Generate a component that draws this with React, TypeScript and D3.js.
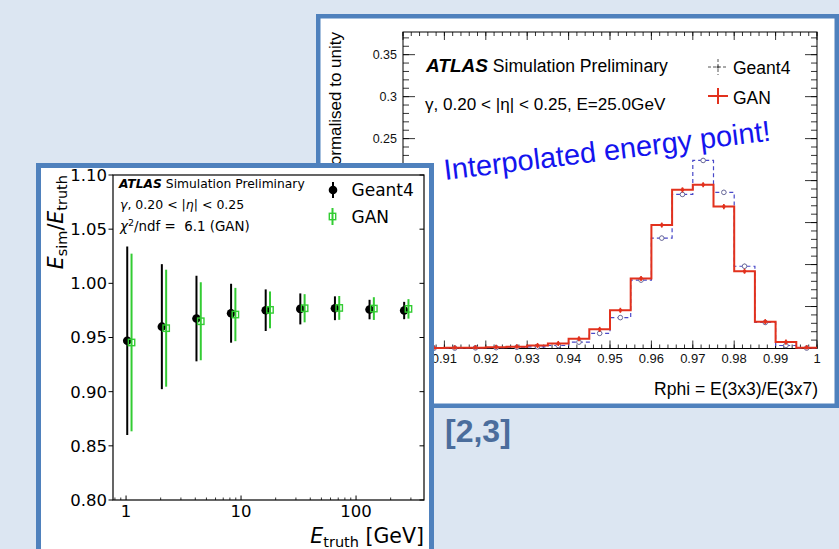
import React from 'react'
import * as d3 from 'd3'

// ---- left panel: energy response vs truth energy ----
const energies = [1.024, 2.048, 4.096, 8.192, 16.384, 32.768, 65.536, 131.072, 262.144]
const g4Ratio = [0.947, 0.960, 0.9675, 0.9724, 0.9752, 0.9764, 0.977, 0.9758, 0.9749]
const g4Err = [0.087, 0.0577, 0.0395, 0.0272, 0.0192, 0.0143, 0.011, 0.009, 0.008]
const ganRatio = [0.9454, 0.9586, 0.965, 0.9712, 0.9755, 0.977, 0.9773, 0.9767, 0.9764]
const ganErr = [0.082, 0.054, 0.036, 0.0246, 0.017, 0.013, 0.011, 0.0105, 0.009]
const ratioTicks = [0.8, 0.85, 0.9, 0.95, 1.0, 1.05, 1.1]
const ratioLabels = ['0.80', '0.85', '0.90', '0.95', '1.00', '1.05', '1.10']
const energyTicks = [1, 10, 100]
const energyLabels = ['1', '10', '100']

// ---- right panel: Rphi shower shape at 25 GeV ----
const rphiEdges = [0.900, 0.905, 0.910, 0.915, 0.920, 0.925, 0.930, 0.935, 0.940, 0.945, 0.950,
  0.955, 0.960, 0.965, 0.970, 0.975, 0.980, 0.985, 0.990, 0.995, 1.000]
const ganHist = [0.0005, 0.0006, 0.0008, 0.001, 0.0015, 0.002, 0.0036, 0.006, 0.0116, 0.0228,
  0.0455, 0.0835, 0.147, 0.189, 0.195, 0.169, 0.092, 0.032, 0.0076, 0.001]
const g4Hist = [0.0003, 0.0004, 0.0005, 0.0008, 0.001, 0.0015, 0.002, 0.0036, 0.0076, 0.018,
  0.0368, 0.0815, 0.1315, 0.1835, 0.224, 0.186, 0.098, 0.031, 0.0036, 0.0005]
const histErr = 0.003
const rphiTicks = [0.9, 0.91, 0.92, 0.93, 0.94, 0.95, 0.96, 0.97, 0.98, 0.99, 1.0]
const rphiLabels = ['0.9', '0.91', '0.92', '0.93', '0.94', '0.95', '0.96', '0.97', '0.98', '0.99', '1']
const normTicks = [0, 0.05, 0.1, 0.15, 0.2, 0.25, 0.3, 0.35]
const normLabels = ['0', '0.05', '0.1', '0.15', '0.2', '0.25', '0.3', '0.35']

const BG = '#dce6f2'
const FRAME = '#4f81bd'
const GREEN = '#33cc33'
const RED = '#e2311d'
const BLUE = '#4848c8'
const MPL = 'DejaVu Sans, sans-serif'
const ROOTF = 'Liberation Sans, Arial, sans-serif'

// the left panel sits over this part of the right one
const COVER = { x0: 36, x1: 434, y0: 163 }
const covered = (px: number, py: number) => px > COVER.x0 && px < COVER.x1 && py > COVER.y0

function RphiPanel() {
  const x = d3.scaleLinear().domain([0.9, 1.0]).range([403, 817])
  const y = d3.scaleLinear().domain([0, 0.377]).range([348.5, 32])
  const centers = rphiEdges.slice(0, -1).map((e, i) => (e + rphiEdges[i + 1]) / 2)

  const step = (vals: number[]) => {
    const pts: [number, number][] = vals.map((v, i) => [rphiEdges[i], v])
    pts.push([rphiEdges[rphiEdges.length - 1], vals[vals.length - 1]])
    return d3.line<[number, number]>().x(d => x(d[0])).y(d => y(d[1])).curve(d3.curveStepAfter)(pts) || ''
  }

  const [y0, y1] = y.range()
  const [x0, x1] = x.range()

  return (
    <g>
      <rect x={318.25} y={16.25} width={518.5} height={389.5} fill="#fff" stroke={FRAME} strokeWidth={4.5} />
      <rect x={x0} y={y1} width={x1 - x0} height={y0 - y1} fill="none" stroke="#000" strokeWidth={1} />

      {/* minor ticks */}
      {x.ticks(50).map((t, i) => (
        <g key={'xm' + i} stroke="#000" strokeWidth={0.8}>
          <line x1={x(t)} x2={x(t)} y1={y0} y2={y0 - 4} />
          <line x1={x(t)} x2={x(t)} y1={y1} y2={y1 + 4} />
        </g>
      ))}
      {y.ticks(38).map((t, i) => (
        <g key={'ym' + i} stroke="#000" strokeWidth={0.8}>
          <line x1={x0} x2={x0 + 6} y1={y(t)} y2={y(t)} />
          <line x1={x1} x2={x1 - 6} y1={y(t)} y2={y(t)} />
        </g>
      ))}
      {rphiTicks.map((t, i) => (
        <g key={'xt' + i}>
          <line x1={x(t)} x2={x(t)} y1={y0} y2={y0 - 8} stroke="#000" strokeWidth={0.8} />
          <line x1={x(t)} x2={x(t)} y1={y1} y2={y1 + 8} stroke="#000" strokeWidth={0.8} />
          {!covered(x(t), 356) && (
            <text x={x(t)} y={363} textAnchor="middle" fontFamily={ROOTF} fontSize={13} fill="#111">{rphiLabels[i]}</text>
          )}
        </g>
      ))}
      {normTicks.map((t, i) => (
        <g key={'yt' + i}>
          <line x1={x0} x2={x0 + 12} y1={y(t)} y2={y(t)} stroke="#000" strokeWidth={0.8} />
          <line x1={x1} x2={x1 - 12} y1={y(t)} y2={y(t)} stroke="#000" strokeWidth={0.8} />
          {!covered(390, y(t) - 6) && (
            <text x={397} y={y(t)} dy="0.36em" textAnchor="end" fontFamily={ROOTF} fontSize={12.5} fill="#111">{normLabels[i]}</text>
          )}
        </g>
      ))}

      {/* Geant4: dashed histogram with open markers */}
      <path d={step(g4Hist)} fill="none" stroke={BLUE} strokeWidth={1.2} strokeDasharray="4 3" />
      {centers.map((c, i) => (
        <g key={'g4' + i}>
          <line x1={x(c)} x2={x(c)} y1={y(g4Hist[i] + histErr)} y2={y(Math.max(0, g4Hist[i] - histErr))} stroke="#6a6a9a" strokeWidth={1} />
          <circle cx={x(c)} cy={y(g4Hist[i])} r={2.3} fill="#fff" stroke="#6a6a9a" strokeWidth={1} />
        </g>
      ))}

      {/* GAN: solid red histogram */}
      <path d={step(ganHist)} fill="none" stroke={RED} strokeWidth={2} />
      {centers.map((c, i) => (
        <g key={'gan' + i}>
          <line x1={x(c)} x2={x(c)} y1={y(ganHist[i] + histErr)} y2={y(Math.max(0, ganHist[i] - histErr))} stroke={RED} strokeWidth={1.6} />
          <circle cx={x(c)} cy={y(ganHist[i])} r={1.8} fill={RED} />
        </g>
      ))}

      {/* labels */}
      <text x={426} y={72} fontFamily={ROOTF} fontSize={17.6} fill="#000">
        <tspan fontWeight="bold" fontStyle="italic" fontSize={19}>ATLAS</tspan>
        <tspan> Simulation Preliminary</tspan>
      </text>
      <text x={425} y={110} fontFamily={ROOTF} fontSize={17.1} fill="#000">γ, 0.20 &lt; |η| &lt; 0.25, E=25.0GeV</text>

      <g stroke="#555" strokeWidth={1} strokeDasharray="3 2">
        <line x1={708} x2={728} y1={67} y2={67} />
        <line x1={718} x2={718} y1={59} y2={75} />
      </g>
      <circle cx={718} cy={67} r={1.5} fill="#555" />
      <text x={733} y={73.5} fontFamily={ROOTF} fontSize={17.5} fill="#000">Geant4</text>
      <g stroke={RED} strokeWidth={2}>
        <line x1={708} x2={728} y1={96} y2={96} />
        <line x1={718} x2={718} y1={88} y2={104} />
      </g>
      <text x={733} y={103.5} fontFamily={ROOTF} fontSize={17.5} fill="#000">GAN</text>

      <text x={818} y={395} textAnchor="end" fontFamily={ROOTF} fontSize={17.5} fill="#000">Rphi = E(3x3)/E(3x7)</text>
      <text transform="translate(341,32) rotate(-90)" textAnchor="end" fontFamily={ROOTF} fontSize={17} fill="#000">Normalised to unity</text>
    </g>
  )
}

function ResponsePanel() {
  const x = d3.scaleLog().domain([0.77, 390]).range([113, 424])
  const y = d3.scaleLinear().domain([0.8, 1.1]).range([500, 175])
  const [y0, y1] = y.range()
  const [x0, x1] = x.range()
  const ganShift = 1.09

  return (
    <g>
      <rect x={38.5} y={165.5} width={393} height={400} fill="#fff" stroke={FRAME} strokeWidth={5} />
      <rect x={x0} y={y1} width={x1 - x0} height={y0 - y1} fill="none" stroke="#000" strokeWidth={1.2} />

      {x.ticks().filter(t => !energyTicks.includes(t)).map((t, i) => (
        <line key={'xm' + i} x1={x(t)} x2={x(t)} y1={y0} y2={y0 - 2.5} stroke="#000" strokeWidth={0.8} />
      ))}
      {energyTicks.map((t, i) => (
        <g key={'xt' + i}>
          <line x1={x(t)} x2={x(t)} y1={y0} y2={y0 - 4.5} stroke="#000" strokeWidth={1} />
          <text x={x(t)} y={517} textAnchor="middle" fontFamily={MPL} fontSize={16.5} fill="#000">{energyLabels[i]}</text>
        </g>
      ))}
      {ratioTicks.map((t, i) => (
        <g key={'yt' + i}>
          <line x1={x0} x2={x0 - 4.5} y1={y(t)} y2={y(t)} stroke="#000" strokeWidth={1} />
          <line x1={x1} x2={x1 - 4.5} y1={y(t)} y2={y(t)} stroke="#000" strokeWidth={1} />
          <text x={107} y={y(t)} dy="0.36em" textAnchor="end" fontFamily={MPL} fontSize={16.5} fill="#000">{ratioLabels[i]}</text>
        </g>
      ))}

      {energies.map((e, i) => (
        <g key={'g4' + i}>
          <line x1={x(e)} x2={x(e)} y1={y(g4Ratio[i] + g4Err[i])} y2={y(g4Ratio[i] - g4Err[i])} stroke="#000" strokeWidth={2} />
          <circle cx={x(e)} cy={y(g4Ratio[i])} r={4.3} fill="#000" />
        </g>
      ))}
      {energies.map((e, i) => (
        <g key={'gan' + i}>
          <line x1={x(e * ganShift)} x2={x(e * ganShift)} y1={y(ganRatio[i] + ganErr[i])} y2={y(ganRatio[i] - ganErr[i])} stroke={GREEN} strokeWidth={2} />
          <rect x={x(e * ganShift) - 3.2} y={y(ganRatio[i]) - 3.2} width={6.4} height={6.4} fill="none" stroke={GREEN} strokeWidth={1.4} />
        </g>
      ))}

      {/* annotation */}
      <text x={119} y={188} fontFamily={MPL} fontSize={12.3} fill="#000">
        <tspan fontWeight="bold" fontStyle="italic">ATLAS</tspan>
        <tspan> Simulation Preliminary</tspan>
      </text>
      <text x={120} y={208.5} fontFamily={MPL} fontSize={12.5} fill="#000">
        <tspan fontStyle="italic">γ</tspan>, 0.20 &lt; |<tspan fontStyle="italic">η</tspan>| &lt; 0.25
      </text>
      <text x={120} y={231} fontFamily={MPL} fontSize={13.4} fill="#000">
        <tspan fontStyle="italic">χ</tspan>
        <tspan dy={-5.5} fontSize={9.5}>2</tspan>
        <tspan dy={5.5}>{'/ndf = \u00a06.1 (GAN)'}</tspan>
      </text>

      {/* legend */}
      <line x1={333} x2={333} y1={182} y2={198} stroke="#000" strokeWidth={2} />
      <circle cx={333} cy={190} r={4.3} fill="#000" />
      <text x={351.5} y={196} fontFamily={MPL} fontSize={17} fill="#000">Geant4</text>
      <line x1={332.5} x2={332.5} y1={208} y2={225} stroke={GREEN} strokeWidth={2} />
      <rect x={329.3} y={213.3} width={6.4} height={6.4} fill="none" stroke={GREEN} strokeWidth={1.4} />
      <text x={351.5} y={222.7} fontFamily={MPL} fontSize={17} fill="#000">GAN</text>

      {/* axis titles */}
      <text transform="translate(63,175) rotate(-90)" textAnchor="end" fontFamily={MPL} fontSize={20.5} fill="#000">
        <tspan fontStyle="italic">E</tspan>
        <tspan fontSize={14.5} dy={4}>sim</tspan>
        <tspan dy={-4}>/</tspan>
        <tspan fontStyle="italic">E</tspan>
        <tspan fontSize={14.5} dy={4}>truth</tspan>
      </text>
      <text x={424} y={542.5} textAnchor="end" fontFamily={MPL} fontSize={20.5} fill="#000">
        <tspan fontStyle="italic">E</tspan>
        <tspan fontSize={14.5} dy={4}>truth</tspan>
        <tspan dy={-4}> [GeV]</tspan>
      </text>
    </g>
  )
}

export default function App() {
  return (
    <svg width={839} height={549} style={{ position: 'absolute', left: 0, top: 0 }}>
      <rect width={839} height={549} fill={BG} />
      <RphiPanel />
      <ResponsePanel />
      <text x={445} y={442} fontFamily={ROOTF} fontWeight="bold" fontSize={32} fill="#4b6d9c">[2,3]</text>
      <text transform="translate(445,180) rotate(-6.9)" fontFamily={ROOTF} fontSize={29} fill="#1414ee">Interpolated energy point!</text>
    </svg>
  )
}
